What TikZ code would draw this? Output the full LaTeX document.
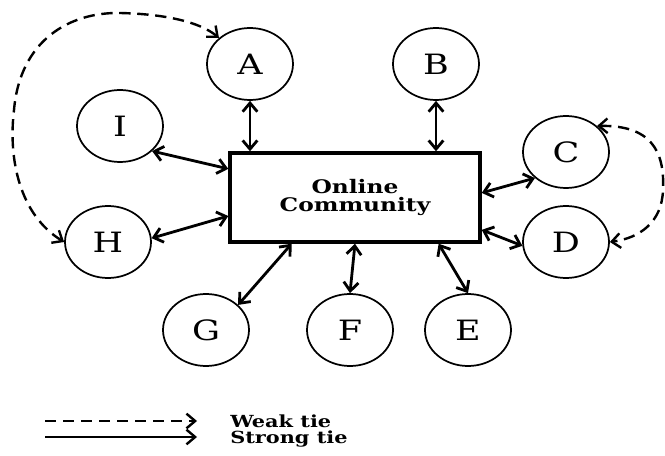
\documentclass[tikz,border=0pt]{standalone}
\usepackage{fontspec}
\newfontfamily\widefont[FakeStretch=1.25]{DejaVu Serif}
\usetikzlibrary{arrows.meta,calc,shapes.geometric}
\begin{document}
\begin{tikzpicture}[x=0.75pt,y=-0.75pt,
  person/.style={ellipse,draw,line width=1.3pt,minimum width=64.5pt,minimum height=54pt,inner sep=0pt,font=\widefont\fontsize{21}{24}\selectfont},
  strong/.style={line width=2.1pt,{Straight Barb[length=6.5pt,width=11pt]}-{Straight Barb[length=6.5pt,width=11pt]}},
  weak/.style={line width=1.8pt,dash pattern=on 8.5pt off 5pt,{Straight Barb[length=6.5pt,width=11pt]}-{Straight Barb[length=6.5pt,width=11pt]}},
  legtext/.style={anchor=base west,inner sep=0pt,font=\widefont\fontsize{12.5}{14}\selectfont\bfseries}]
\useasboundingbox (0,0) rectangle (665,456);
\node[draw,line width=2.6pt,minimum width=187.5pt,minimum height=66.75pt,align=center,font=\widefont\fontsize{14}{14}\selectfont\bfseries] (oc) at (355,197.5) {Online\\Community};
\node[person] (A) at (250,64) {A};
\node[person] (B) at (436,64) {B};
\node[person] (I) at (120,126) {I};
\node[person] (C) at (566,152) {C};
\node[person] (H) at (108,242) {H};
\node[person] (D) at (566,242) {D};
\node[person] (G) at (206,330) {G};
\node[person] (F) at (350,330) {F};
\node[person] (E) at (468,330) {E};
% strong ties
\draw[strong] (A.south) -- (A.south |- oc.north);
\draw[strong] (B.south) -- (B.south |- oc.north);
\draw[strong] (I.-38) -- ($(oc.north west)!0.19!(oc.south west)$);
\draw[strong] (H.5) -- ($(oc.north west)!0.70!(oc.south west)$);
\draw[strong] (C.220) -- ($(oc.north east)!0.45!(oc.south east)$);
\draw[strong] (D.185) -- ($(oc.north east)!0.85!(oc.south east)$);
\draw[strong] (G.38) -- ($(oc.south west)!0.25!(oc.south east)$);
\draw[strong] (F.north) -- (oc.south);
\draw[strong] (E.north) -- ($(oc.south west)!0.83!(oc.south east)$);
% weak ties
\draw[weak] (H.west) .. controls (20,215) and (8,160) .. (14,110) .. controls (20,40) and (70,12) .. (120,13) .. controls (165,14) and (200,22) .. (A.140);
\draw[weak] (C.40) .. controls (650,125) and (665,150) .. (663,190) .. controls (662,222) and (640,238) .. (D.east);
% legend
\coordinate (w1) at (45,421); \coordinate (w2) at (197,421);
\coordinate (s1) at (45,437); \coordinate (s2) at (197,437);
\draw[line width=1.8pt,dash pattern=on 8.5pt off 5pt,-{Straight Barb[length=6.5pt,width=11pt]}] (w1) -- (w2);
\draw[line width=1.8pt,-{Straight Barb[length=6.5pt,width=11pt]}] (s1) -- (s2);
\node[legtext] (wt) at (230,427) {Weak tie};
\node[legtext] (st) at (230,443) {Strong tie};
\end{tikzpicture}
\end{document}
